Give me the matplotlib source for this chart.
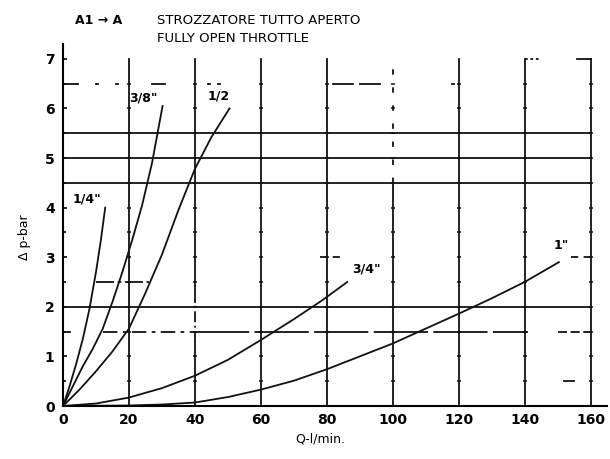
import numpy as np
import matplotlib.pyplot as plt

# flow Q (l/min) vs pressure drop (bar)
q_14 = [0, 2, 4, 6, 8, 10, 11.5, 12.8]
dp_14 = [0, 0.4, 0.85, 1.35, 1.95, 2.7, 3.35, 4.0]

q_38 = [0, 3, 6, 9, 12, 15, 18, 21, 24, 27, 30.2]
dp_38 = [0, 0.4, 0.8, 1.15, 1.55, 2.1, 2.7, 3.35, 4.05, 4.9, 6.05]

q_12 = [0, 5, 10, 15, 20, 25, 30, 35, 40, 45, 50.5]
dp_12 = [0, 0.33, 0.7, 1.1, 1.56, 2.28, 3.05, 3.95, 4.78, 5.42, 6.0]

q_34 = [0, 10, 20, 30, 40, 50, 60, 70, 78.6, 86.2]
dp_34 = [0, 0.05, 0.17, 0.36, 0.61, 0.93, 1.33, 1.75, 2.13, 2.5]

q_1 = [0, 20, 30, 40, 50, 60, 70, 80, 90, 100, 110, 120, 130, 140, 150.4]
dp_1 = [0, 0.01, 0.03, 0.07, 0.18, 0.33, 0.51, 0.74, 1.0, 1.26, 1.56, 1.86,
        2.17, 2.5, 2.9]

sizes = ['1/4"', '3/8"', '1/2', '3/4"', '1"']
label_offsets = [(-18, 9), (-19, 8), (-11, 12), (19, 13), (2, 17)]

x_ticks = [0, 20, 40, 60, 80, 100, 120, 140, 160]
y_ticks = [0, 1, 2, 3, 4, 5, 6, 7]

fig = plt.figure(figsize=(6.1, 4.59), dpi=100)
ax = fig.add_axes([63 / 610, 53 / 459, 544 / 610, 362 / 459])
ax.set_xlim(0, 165)
ax.set_ylim(0, 7.3)

ink = "#111111"
lw = 1.3

# vertical grid
for x in x_ticks[1:]:
    if x == 100:
        ax.plot([x, x], [0, 4.5], color=ink, lw=lw)
        ax.plot([x, x], [4.5, 7.0], color=ink, lw=lw, ls=(0, (3, 7)))
    elif x == 40:
        ax.plot([x, x], [0, 1.3], color=ink, lw=lw)
        ax.plot([x, x], [1.3, 2.1], color=ink, lw=lw, ls=(0, (6, 2, 1, 2)))
        ax.plot([x, x], [2.1, 7.0], color=ink, lw=lw)
    else:
        ax.plot([x, x], [0, 7.0], color=ink, lw=lw)
    # small tick dashes on each vertical
    ax.plot([x] * 13, np.arange(0.5, 7.0, 0.5), ls="none", marker="_",
            ms=3.5, mew=1.1, color=ink)

# horizontal grid, partly broken as in the print
for y in [2.0, 4.5, 5.0, 5.5]:
    ax.plot([0, 160], [y, y], color=ink, lw=lw)
ax.plot([0, 2], [1.5, 1.5], color=ink, lw=lw)
ax.plot([12, 40], [1.5, 1.5], color=ink, lw=lw, ls=(0, (8, 3, 2, 3)))
ax.plot([40, 141], [1.5, 1.5], color=ink, lw=lw, ls=(0, (30, 3)))
ax.plot([150, 160], [1.5, 1.5], color=ink, lw=lw, ls=(0, (5, 2)))
ax.plot([10, 26], [2.5, 2.5], color=ink, lw=lw, ls=(0, (10, 2, 2, 2)))
ax.plot([78, 85], [3.0, 3.0], color=ink, lw=lw, ls=(0, (4, 3)))
ax.plot([154, 160], [3.0, 3.0], color=ink, lw=lw, ls=(0, (4, 3)))
ax.plot([152, 155], [0.5, 0.5], color=ink, lw=lw)
ax.plot([0, 4.5], [6.5, 6.5], color=ink, lw=lw)
for a, b in [(10, 10.6), (16, 16.6), (27, 31), (44, 44.6), (47, 47.6),
             (82, 88), (90, 96), (118, 118.6)]:
    ax.plot([a, b], [6.5, 6.5], color=ink, lw=lw)
ax.plot([140, 145], [7.0, 7.0], color=ink, lw=lw, ls=(0, (1.5, 1.5)))
ax.plot([156, 160], [7.0, 7.0], color=ink, lw=lw)

# curves
curves = [(q_14, dp_14), (q_38, dp_38), (q_12, dp_12), (q_34, dp_34), (q_1, dp_1)]
for (q, dp), name, off in zip(curves, sizes, label_offsets):
    ax.plot(q, dp, color=ink, lw=lw)
    ax.annotate(name, (q[-1], dp[-1]), xytext=off, textcoords="offset pixels",
                ha="center", va="center", fontsize=9, fontweight="bold")

for s in ["top", "right"]:
    ax.spines[s].set_visible(False)
ax.spines["left"].set_linewidth(1.5)
ax.spines["bottom"].set_linewidth(1.5)

ax.set_xticks(x_ticks)
ax.set_yticks(y_ticks)
ax.set_yticks(np.arange(0.5, 7.0, 0.5), minor=True)
ax.tick_params(axis="x", length=0, pad=5, labelsize=10)
ax.tick_params(axis="y", which="both", direction="in", length=3, width=1.2,
               pad=6, labelsize=10)
ax.tick_params(axis="y", which="minor", length=2)
for lab in ax.get_xticklabels() + ax.get_yticklabels():
    lab.set_fontweight("bold")

fig.text(25 / 610, 1 - 237 / 459, "Δ p-bar", rotation=90, ha="center",
         va="center", fontsize=9)
fig.text(320 / 610, 1 - 439 / 459, "Q-l/min.", ha="center", va="center",
         fontsize=9)
fig.text(75 / 610, 1 - 20 / 459, "A1 → A", ha="left", va="center",
         fontsize=9, fontweight="bold")
fig.text(157 / 610, 1 - 20 / 459, "STROZZATORE TUTTO APERTO", ha="left",
         va="center", fontsize=9.5)
fig.text(157 / 610, 1 - 38 / 459, "FULLY OPEN THROTTLE", ha="left",
         va="center", fontsize=9.5)

plt.savefig("out.png", dpi=100)
plt.close()
